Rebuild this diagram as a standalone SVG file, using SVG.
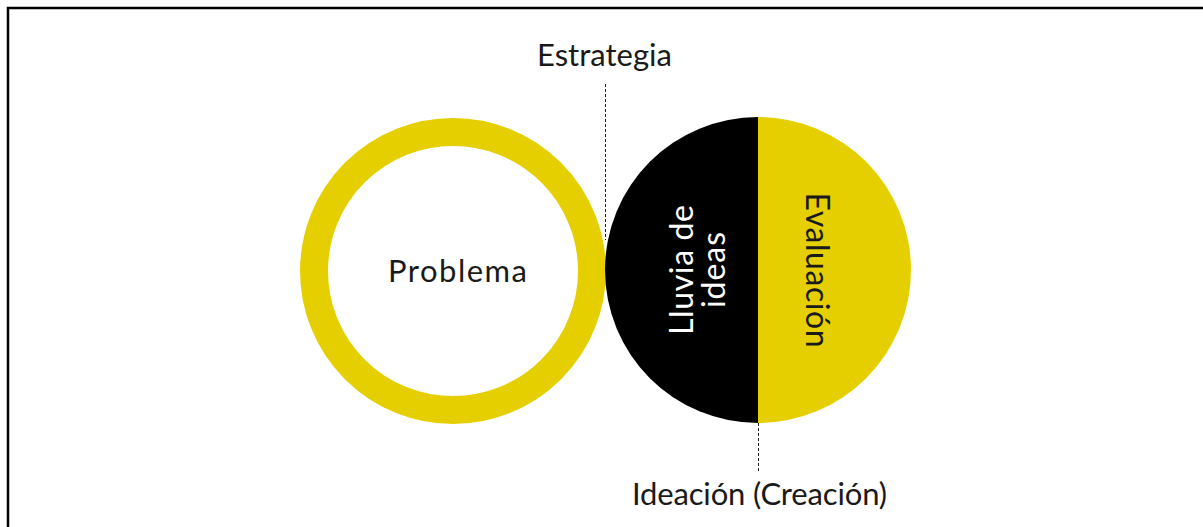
<svg xmlns="http://www.w3.org/2000/svg" width="1203" height="527" viewBox="0 0 1203 527">
<style>
.lbl{font-family:Lato,"Liberation Sans",sans-serif;font-size:31px;fill:#1a1a1a;text-anchor:middle}
.rot{font-size:32px}
.dash{stroke:#222;stroke-width:1;stroke-dasharray:3,2;fill:none}
</style>
<rect width="1203" height="527" fill="#fff"/>
<path d="M8,527 V8 H1203" fill="none" stroke="#000" stroke-width="2.5"/>
<g id="problema">
<circle cx="453" cy="271" r="139" fill="none" stroke="#E6CF00" stroke-width="28"/>
<text class="lbl" x="457.5" y="282" font-size="34" textLength="139" lengthAdjust="spacing">Problema</text>
</g>
<g id="ideacion">
<path d="M758,117 A153,153 0 0 0 758,423 Z" fill="#000"/>
<path d="M758,117 A153,153 0 0 1 758,423 Z" fill="#E6CF00"/>
<text class="lbl rot" transform="translate(693,270) rotate(-90)" style="fill:#fff" textLength="130" lengthAdjust="spacing">Lluvia de</text>
<text class="lbl rot" transform="translate(725,270) rotate(-90)" style="fill:#fff" textLength="76" lengthAdjust="spacing">ideas</text>
<text class="lbl rot" transform="translate(806,270) rotate(90)" textLength="155" lengthAdjust="spacing">Evaluación</text>
</g>
<g id="estrategia">
<text class="lbl" x="604.5" y="66" textLength="135" lengthAdjust="spacing">Estrategia</text>
</g>
<g id="ideacion-label">
<text class="lbl" x="759.5" y="505" textLength="255" lengthAdjust="spacing">Ideación (Creación)</text>
</g>
<g id="connectors">
<line class="dash" x1="605.5" y1="84" x2="605.5" y2="240"/>
<line class="dash" x1="758.5" y1="423" x2="758.5" y2="472"/>
</g>
</svg>
